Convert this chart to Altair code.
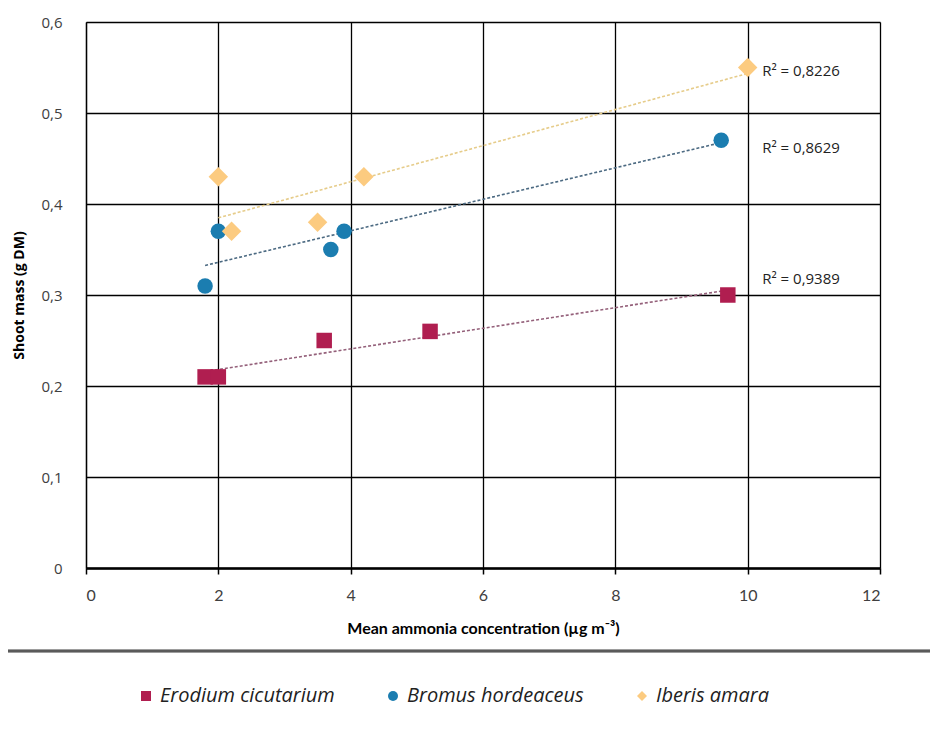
import altair as alt
import pandas as pd

series_names = ["Erodium cicutarium", "Bromus hordeaceus", "Iberis amara"]

erodium_x = [1.8, 2.0, 3.6, 5.2, 9.7]
erodium_y = [0.21, 0.21, 0.25, 0.26, 0.30]
bromus_x = [1.8, 2.0, 3.7, 3.9, 9.6]
bromus_y = [0.31, 0.37, 0.35, 0.37, 0.47]
iberis_x = [2.0, 2.2, 3.5, 4.2, 10.0]
iberis_y = [0.43, 0.37, 0.38, 0.43, 0.55]

r2_text = ["R² = 0,9389", "R² = 0,8629", "R² = 0,8226"]
r2_x = [10.22, 10.22, 10.22]
r2_y = [0.318, 0.462, 0.546]

colors = ["#B01E50", "#1B7DB0", "#FCCB80"]
trend_colors = ["#94607A", "#4C6A82", "#E6CC8A"]
shapes = ["square", "circle", "diamond"]

rows = []
for name, xs, ys in zip(series_names, [erodium_x, bromus_x, iberis_x], [erodium_y, bromus_y, iberis_y]):
    for x, y in zip(xs, ys):
        rows.append({"series": name, "x": x, "y": y})
df = pd.DataFrame(rows)
labels = pd.DataFrame({"x": r2_x, "y": r2_y, "text": r2_text})

xs = alt.Scale(domain=[0, 12], nice=False, zero=False)
ys = alt.Scale(domain=[0, 0.6], nice=False)

x_axis = alt.Axis(
    values=[0, 2, 4, 6, 8, 10, 12], format="d", title="Mean ammonia concentration (µg m⁻³)",
    grid=True, gridColor="#000000", gridWidth=1.3, gridOpacity=1,
    domain=True, domainColor="#000000", domainWidth=2.5,
    ticks=True, tickColor="#000000", tickSize=6, tickWidth=1.5,
    labelFont="Liberation Sans Narrow, Lato", labelFontSize=16, labelColor="#404040",
    labelPadding=13, titleFont="Liberation Sans Narrow, Lato", titleFontSize=16,
    titleFontWeight="bold", titleColor="#000000", titlePadding=17,
)
y_axis = alt.Axis(
    values=[0, 0.1, 0.2, 0.3, 0.4, 0.5, 0.6], title="Shoot mass (g DM)",
    labelExpr="datum.value == 0 ? '0' : replace(format(datum.value, '.1f'), '.', ',')",
    grid=True, gridColor="#000000", gridWidth=1.3, gridOpacity=1,
    domain=True, domainColor="#000000", domainWidth=1.3, ticks=False,
    labelFont="Open Sans", labelFontSize=15, labelColor="#404040", labelPadding=24,
    titleFont="Open Sans", titleFontSize=14, titleFontWeight="bold", titleColor="#000000",
    titlePadding=14,
)

color_scale = alt.Scale(domain=series_names, range=colors)
shape_scale = alt.Scale(domain=series_names, range=shapes)

legend = alt.Legend(title=None, orient="none", direction="horizontal",
                    legendX=50, legendY=664, symbolSize=100, labelLimit=400,
                    labelFont="Open Sans", labelFontStyle="italic",
                    labelFontSize=20, labelColor="#222222", columnPadding=48)

base = alt.Chart(df)

trend = base.transform_regression("x", "y", groupby=["series"]).mark_line(
    strokeDash=[3, 2], strokeWidth=1.6
).encode(
    x=alt.X("x:Q", scale=xs, axis=x_axis),
    y=alt.Y("y:Q", scale=ys, axis=y_axis),
    color=alt.Color("series:N", scale=alt.Scale(domain=series_names, range=trend_colors), legend=None),
    detail="series:N",
)

points = base.mark_point(filled=True, opacity=1, size=240).encode(
    x=alt.X("x:Q", scale=xs),
    y=alt.Y("y:Q", scale=ys),
    color=alt.Color("series:N", scale=color_scale, sort=series_names, legend=legend),
    shape=alt.Shape("series:N", scale=shape_scale, sort=series_names, legend=legend),
)

diamonds = base.transform_filter(alt.datum.series == series_names[2]).mark_point(
    filled=True, opacity=1, size=380, shape="diamond", color=colors[2]
).encode(x=alt.X("x:Q", scale=xs), y=alt.Y("y:Q", scale=ys))

texts = alt.Chart(labels).mark_text(
    align="left", baseline="middle", font="Open Sans", fontSize=15, color="#222222"
).encode(x=alt.X("x:Q", scale=xs), y=alt.Y("y:Q", scale=ys), text="text:N")

sep = alt.Chart(labels).mark_rule(color="#5a5a5a", strokeWidth=2.5, clip=False).encode(
    x=alt.value(-86), x2=alt.value(870), y=alt.value(629)
)

chart = alt.layer(trend, points, diamonds, texts, sep).resolve_scale(
    color="independent", shape="independent"
).properties(
    width=794, height=546,
    autosize=alt.AutoSizeParams(type="none"),
    padding={"left": 78, "top": 14, "right": 50, "bottom": 160},
).configure_view(
    fill="#E8E8E8", stroke="#000000", strokeWidth=1.3
).configure(background="#ffffff")

chart.save("out.html", embed_options={"renderer": "svg", "actions": False})
